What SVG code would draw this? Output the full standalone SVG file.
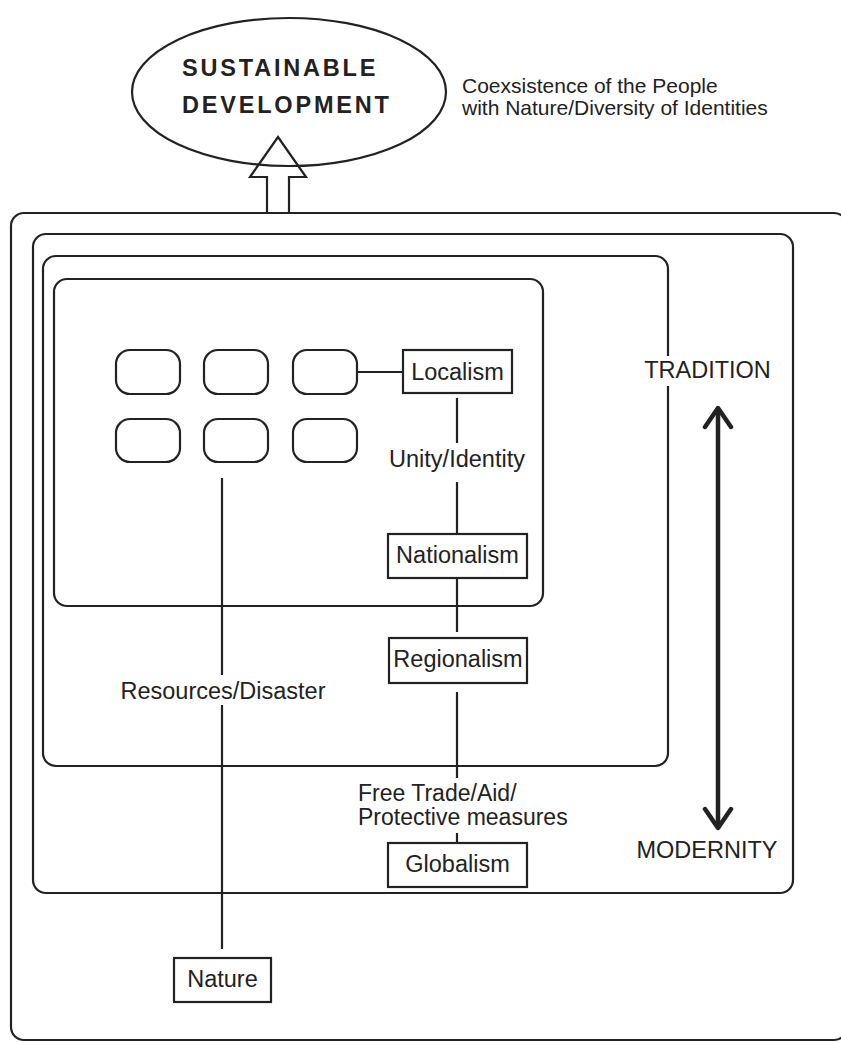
<svg xmlns="http://www.w3.org/2000/svg" width="841" height="1042" viewBox="0 0 841 1042">
<style>
.frame{fill:none;stroke:#222;stroke-width:2.2}
.box{fill:#fff;stroke:#222;stroke-width:2.2}
.ln{fill:none;stroke:#222;stroke-width:2.2}
.t{font-family:"Liberation Sans",Arial,sans-serif;font-size:23.5px;fill:#222;text-anchor:middle}
.t2{font-family:"Liberation Sans",Arial,sans-serif;font-size:23px;fill:#222}
.note{font-family:"Liberation Sans",Arial,sans-serif;font-size:21px;fill:#222}
.title{font-family:"Liberation Sans",Arial,sans-serif;font-size:23.5px;font-weight:bold;letter-spacing:2.8px;fill:#222}
</style>
<rect width="841" height="1042" fill="#fff"/>
<g id="frames">
<rect id="outer" class="frame" x="11" y="213" width="836" height="827" rx="13"/>
<rect id="box-tradition" class="frame" x="33" y="234" width="760" height="659" rx="13"/>
<rect id="box-region" class="frame" x="43" y="256" width="625" height="510" rx="13"/>
<rect id="box-nation" class="frame" x="54" y="279" width="489" height="327" rx="13"/>
</g>
<g id="connectors">
<line class="ln" x1="357" y1="372" x2="403" y2="372"/>
<line class="ln" x1="457" y1="398" x2="457" y2="443"/>
<line class="ln" x1="457" y1="482" x2="457" y2="534"/>
<line class="ln" x1="457" y1="578" x2="457" y2="632"/>
<line class="ln" x1="457" y1="692" x2="457" y2="778"/>
<line class="ln" x1="457" y1="833" x2="457" y2="843"/>
<line class="ln" x1="222" y1="478" x2="222" y2="675"/>
<line class="ln" x1="222" y1="705" x2="222" y2="949"/>
</g>
<g id="goal">
<ellipse class="frame" cx="289" cy="92" rx="157" ry="74"/>
<text class="title" x="182" y="76">SUSTAINABLE</text>
<text class="title" x="182" y="113">DEVELOPMENT</text>
</g>
<g id="up-arrow">
<path class="ln" d="M267,213 V177 H250 L278,137 L306,177 H289 V213"/>
</g>
<g id="note">
<text class="note" x="462" y="93">Coexsistence of the People</text>
<text class="note" x="462" y="115">with Nature/Diversity of Identities</text>
</g>
<g id="units">
<rect class="box" x="116" y="350" width="64" height="44" rx="14"/>
<rect class="box" x="204" y="350" width="64" height="44" rx="14"/>
<rect class="box" x="293" y="350" width="64" height="44" rx="14"/>
<rect class="box" x="116" y="419" width="64" height="43" rx="14"/>
<rect class="box" x="204" y="419" width="64" height="43" rx="14"/>
<rect class="box" x="293" y="419" width="64" height="43" rx="14"/>
</g>
<g id="localism">
<rect class="box" x="403" y="350" width="109" height="43"/>
<text class="t" x="457.5" y="380">Localism</text>
</g>
<g id="unity-label">
<text class="t" x="457" y="467">Unity/Identity</text>
</g>
<g id="nationalism">
<rect class="box" x="388" y="534" width="139" height="44"/>
<text class="t" x="457.5" y="563">Nationalism</text>
</g>
<g id="regionalism">
<rect class="box" x="389" y="638" width="138" height="45"/>
<text class="t" x="458" y="667">Regionalism</text>
</g>
<g id="trade-label">
<text class="t2" x="358" y="801">Free Trade/Aid/<tspan x="358" y="825">Protective measures</tspan></text>
</g>
<g id="globalism">
<rect class="box" x="388" y="843" width="139" height="44"/>
<text class="t" x="457.5" y="872">Globalism</text>
</g>
<g id="resources-label">
<text class="t" x="223" y="699">Resources/Disaster</text>
</g>
<g id="nature">
<rect class="box" x="174" y="958" width="97" height="44"/>
<text class="t" x="222.5" y="987">Nature</text>
</g>
<g id="axis">
<rect x="640" y="356" width="136" height="30" fill="#fff"/>
<text class="t" x="707.5" y="378">TRADITION</text>
<line x1="718" y1="409" x2="718" y2="827" stroke="#222" stroke-width="4.5"/>
<path d="M705,427 L718,408 L731,427 M705,809 L718,828 L731,809" fill="none" stroke="#222" stroke-width="4.5" stroke-linecap="round" stroke-linejoin="round"/>
<text class="t" x="707" y="858">MODERNITY</text>
</g>
</svg>
